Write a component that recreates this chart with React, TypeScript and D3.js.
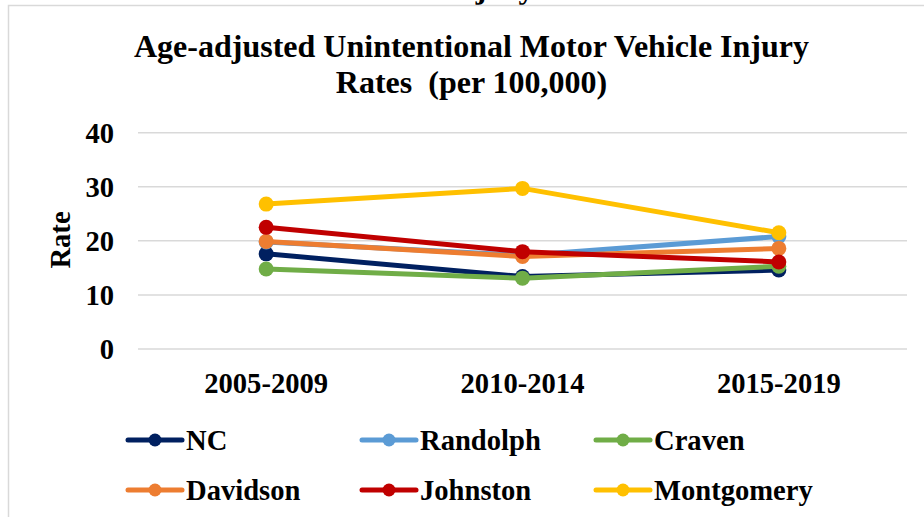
import React from "react";
import * as d3 from "d3";

const periods = ["2005-2009", "2010-2014", "2015-2019"];
const seriesNames = ["NC", "Randolph", "Craven", "Davidson", "Johnston", "Montgomery"];
const seriesColors = ["#002060", "#5B9BD5", "#70AD47", "#ED7D31", "#C00000", "#FFC000"];
const ncValues = [17.6, 13.4, 14.6];
const randolphValues = [19.8, 17.3, 20.8];
const cravenValues = [14.8, 13.1, 15.3];
const davidsonValues = [19.9, 17.1, 18.6];
const johnstonValues = [22.5, 18.0, 16.1];
const montgomeryValues = [26.8, 29.7, 21.5];
const yTicks = [0, 10, 20, 30, 40];
const titleLines = ["Age-adjusted Unintentional Motor Vehicle Injury", "Rates  (per 100,000)"];
const yAxisTitle = "Rate";

const allValues = [ncValues, randolphValues, cravenValues, davidsonValues, johnstonValues, montgomeryValues];

const FONT = "'Liberation Serif', 'Times New Roman', serif";

export default function App() {
  const W = 924, H = 517;
  const x = d3.scalePoint<string>().domain(periods).range([138, 907]).padding(0.5);
  const y = d3.scaleLinear().domain([0, 40]).range([349, 132.7]);
  const line = d3.line<number>().x((_, i) => x(periods[i]) as number).y(d => y(d));

  const legendCols = [128, 362, 596];
  const legendRows = [440, 490];

  return (
    <svg width={W} height={H} style={{ position: "absolute", left: 0, top: 0, background: "#fff" }}
      fontFamily={FONT} fontWeight="bold">
      <rect x={0} y={0} width={W} height={H} fill="#fff" />
      <text x={490} y={-2} fontSize={32} textAnchor="middle" fill="#000">Injury</text>
      <path d={`M8.5,${H + 5} V5.5 H${W + 5}`} fill="none" stroke="#d9d9d9" strokeWidth={1.5} />
      {titleLines.map((t, i) => (
        <text key={t} x={471.5} y={57 + i * 36} fontSize={32} textAnchor="middle" fill="#000"
          style={{ whiteSpace: "pre" }}>{t}</text>
      ))}
      {yTicks.map(t => (
        <g key={t}>
          <line x1={138} x2={907} y1={y(t)} y2={y(t)} stroke="#d9d9d9" strokeWidth={1.5} />
          <text x={114} y={y(t)} dy="0.35em" fontSize={28.6} textAnchor="end" fill="#000">{t}</text>
        </g>
      ))}
      <text transform={`translate(70,240) rotate(-90)`} fontSize={28.6} textAnchor="middle" fill="#000">{yAxisTitle}</text>
      {periods.map(p => (
        <text key={p} x={x(p)} y={393} fontSize={28.6} textAnchor="middle" fill="#000">{p}</text>
      ))}
      {allValues.map((vals, si) => (
        <g key={seriesNames[si]}>
          <path d={line(vals) || ""} fill="none" stroke={seriesColors[si]} strokeWidth={5} strokeLinejoin="round" strokeLinecap="round" />
          {vals.map((v, i) => (
            <circle key={i} cx={x(periods[i])} cy={y(v)} r={7.5} fill={seriesColors[si]} />
          ))}
        </g>
      ))}
      {seriesNames.map((n, i) => {
        const cx = legendCols[i % 3];
        const cy = legendRows[Math.floor(i / 3)];
        return (
          <g key={n}>
            <line x1={cx} x2={cx + 54} y1={cy} y2={cy} stroke={seriesColors[i]} strokeWidth={5} strokeLinecap="round" />
            <circle cx={cx + 27} cy={cy} r={6.5} fill={seriesColors[i]} />
            <text x={cx + 58} y={cy} dy="0.35em" fontSize={28.6} fill="#000">{n}</text>
          </g>
        );
      })}
    </svg>
  );
}
